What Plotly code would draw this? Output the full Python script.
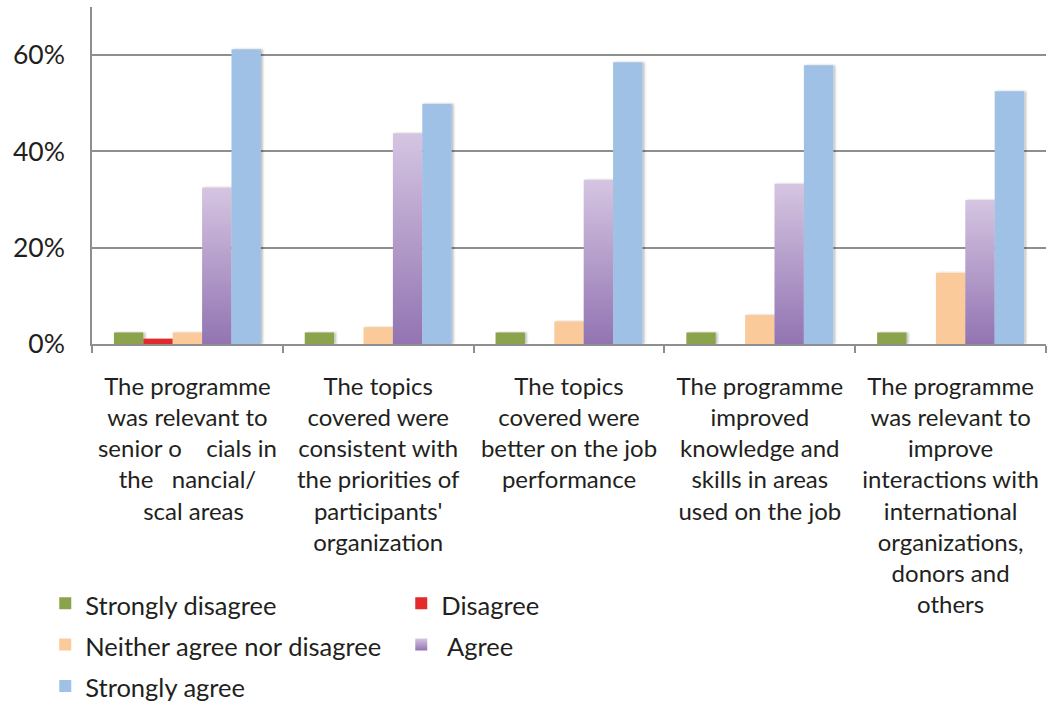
import plotly.graph_objects as go

# Survey statements (category axis); the missing ligature glyphs leave blank gaps
NB = "\u00a0"
categories = [
    "The programme<br>was relevant to<br>senior o" + NB * 4 + "cials in<br>the" + NB * 3 + "nancial/<br>" + NB * 2 + "scal areas",
    "The topics<br>covered were<br>consistent with<br>the priorities of<br>participants'<br>organization",
    "The topics<br>covered were<br>better on the job<br>performance",
    "The programme<br>improved<br>knowledge and<br>skills in areas<br>used on the job",
    "The programme<br>was relevant to<br>improve<br>interactions with<br>international<br>organizations,<br>donors and<br>others",
]

# Share of respondents per answer
strongly_disagree = [0.024, 0.024, 0.024, 0.024, 0.024]
disagree = [0.011, 0.0, 0.0, 0.0, 0.0]
neither = [0.024, 0.035, 0.047, 0.060, 0.148]
agree = [0.325, 0.438, 0.341, 0.333, 0.299]
strongly_agree = [0.612, 0.499, 0.585, 0.579, 0.525]

series_names = ["Strongly disagree", "Disagree", "Neither agree nor disagree", NB + "Agree", "Strongly agree"]
series_values = [strongly_disagree, disagree, neither, agree, strongly_agree]
series_colors = ["#8ba34b", "#e32b2b", "#fbca9b", "#b49dca", "#9fc1e5"]

FONT = "Lato"
TEXT = "#231f20"
GRID = "#8e8e8e"

fig = go.Figure()
for name, vals, col in zip(series_names, series_values, series_colors):
    fig.add_trace(go.Bar(
        x=categories, y=vals,
        name='<span style="font-size:25.5px">' + name + "</span>",
        marker=dict(color=col, line=dict(width=0)),
        hoverinfo="skip",
    ))

fig.update_layout(
    width=1048, height=706,
    margin=dict(l=92, r=2, t=7, b=362, autoexpand=False),
    paper_bgcolor="white", plot_bgcolor="white",
    barmode="group", bargap=0.23, bargroupgap=0,
    font=dict(family=FONT, size=24, color=TEXT),
    showlegend=True,
    legend=dict(
        orientation="h", x=-0.049, xanchor="left", y=-0.693, yanchor="top",
        entrywidth=311, entrywidthmode="pixels",
        font=dict(family=FONT, size=29.5, color=TEXT),
        traceorder="normal", bgcolor="rgba(0,0,0,0)",
    ),
    xaxis=dict(
        showline=True, linecolor=GRID, linewidth=2,
        ticks="outside", tickson="boundaries", ticklen=7, tickcolor=GRID, tickwidth=1.5,
        tickfont=dict(family=FONT, size=24, color=TEXT),
        ticklabelstandoff=20, automargin=False,
        showgrid=False, fixedrange=True,
    ),
    yaxis=dict(
        range=[0, 0.7], dtick=0.2, tickformat=".0%",
        showline=True, linecolor=GRID, linewidth=1.5,
        showgrid=True, gridcolor=GRID, gridwidth=2,
        zeroline=False, ticks="", ticklabelstandoff=20, automargin=False,
        tickfont=dict(family=FONT, size=26.5, color=TEXT),
        fixedrange=True,
    ),
)

# Vertical gradient on the "Agree" bars and a soft shadow on every bar
post = """
(function(){
var gd = document.getElementById('{plot_id}');
var NS = 'http://www.w3.org/2000/svg';
function paint(){
  var svg = gd.querySelector('svg.main-svg');
  if (!svg) return;
  var defs = svg.querySelector('defs');
  if (!document.getElementById('agree-fill')) {
    var g = document.createElementNS(NS, 'linearGradient');
    g.setAttribute('id', 'agree-fill');
    g.setAttribute('x1', '0'); g.setAttribute('y1', '0');
    g.setAttribute('x2', '0'); g.setAttribute('y2', '1');
    [['0', '#d5c5e1'], ['1', '#9274b2']].forEach(function(s){
      var st = document.createElementNS(NS, 'stop');
      st.setAttribute('offset', s[0]); st.setAttribute('stop-color', s[1]);
      g.appendChild(st);
    });
    defs.appendChild(g);
    var f = document.createElementNS(NS, 'filter');
    f.setAttribute('id', 'bar-shadow');
    f.setAttribute('x', '-20%'); f.setAttribute('y', '-5%');
    f.setAttribute('width', '150%'); f.setAttribute('height', '110%');
    var ds = document.createElementNS(NS, 'feDropShadow');
    ds.setAttribute('dx', '2'); ds.setAttribute('dy', '0');
    ds.setAttribute('stdDeviation', '1.3');
    ds.setAttribute('flood-color', '#000'); ds.setAttribute('flood-opacity', '0.25');
    f.appendChild(ds);
    defs.appendChild(f);
  }
  var traces = gd.querySelectorAll('.barlayer .trace');
  traces.forEach(function(t, i){
    t.querySelectorAll('path').forEach(function(p){
      p.setAttribute('filter', 'url(#bar-shadow)');
      if (i === 3) p.style.fill = 'url(#agree-fill)';
    });
  });
  var leg = gd.querySelectorAll('.legend .traces');
  if (leg[3]) leg[3].querySelectorAll('.legendpoints path').forEach(function(p){
    p.style.fill = 'url(#agree-fill)';
  });
}
paint();
gd.on('plotly_afterplot', paint);
})();
"""

fig.write_html("out.html", post_script=post, config={"displayModeBar": False})
